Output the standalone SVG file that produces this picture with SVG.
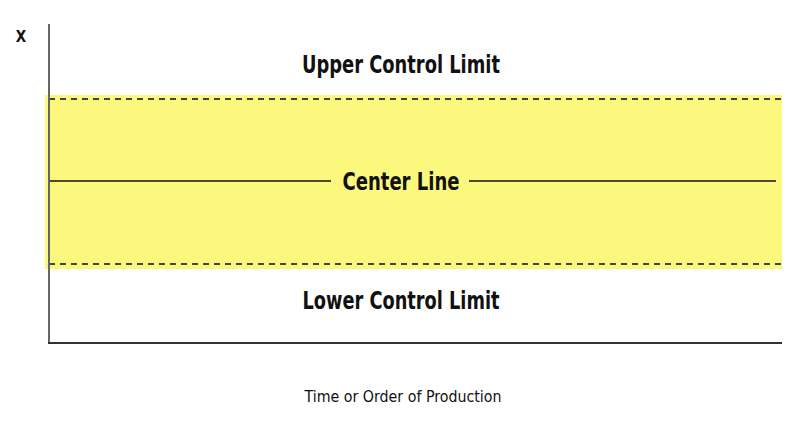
<svg xmlns="http://www.w3.org/2000/svg" width="800" height="425" viewBox="0 0 800 425">
<style>
text{font-family:"Liberation Sans Narrow","DejaVu Sans Condensed","Liberation Sans",sans-serif;fill:#111;text-anchor:middle}
.b{font-weight:bold;font-size:24px}
.s{font-size:15px}
.d{stroke:#444;stroke-width:1.8;stroke-dasharray:6 5}
</style>
<rect x="45" y="95" width="737" height="174" fill="#fcf87e"/>
<g id="connectors" fill="none">
<line class="d" x1="49" y1="99" x2="782" y2="99"/>
<line class="d" x1="49" y1="264" x2="782" y2="264"/>
<line x1="49" y1="181" x2="331" y2="181" stroke="#111" stroke-width="1.3"/>
<line x1="469" y1="181" x2="776" y2="181" stroke="#111" stroke-width="1.3"/>
<line x1="49" y1="24" x2="49" y2="344" stroke="#666" stroke-width="2"/>
<line x1="48" y1="343" x2="782" y2="343" stroke="#333" stroke-width="2"/>
</g>
<g id="ucl"><text class="b" x="401" y="73" textLength="198" lengthAdjust="spacingAndGlyphs">Upper Control Limit</text></g>
<g id="cl"><text class="b" x="401" y="190" textLength="117" lengthAdjust="spacingAndGlyphs">Center Line</text></g>
<g id="lcl"><text class="b" x="401" y="309" textLength="197" lengthAdjust="spacingAndGlyphs">Lower Control Limit</text></g>
<g id="ylabel"><text class="s" x="21" y="42" font-weight="bold">X</text></g>
<g id="xlabel"><text class="s" x="403" y="402" textLength="197" lengthAdjust="spacingAndGlyphs">Time or Order of Production</text></g>
</svg>
